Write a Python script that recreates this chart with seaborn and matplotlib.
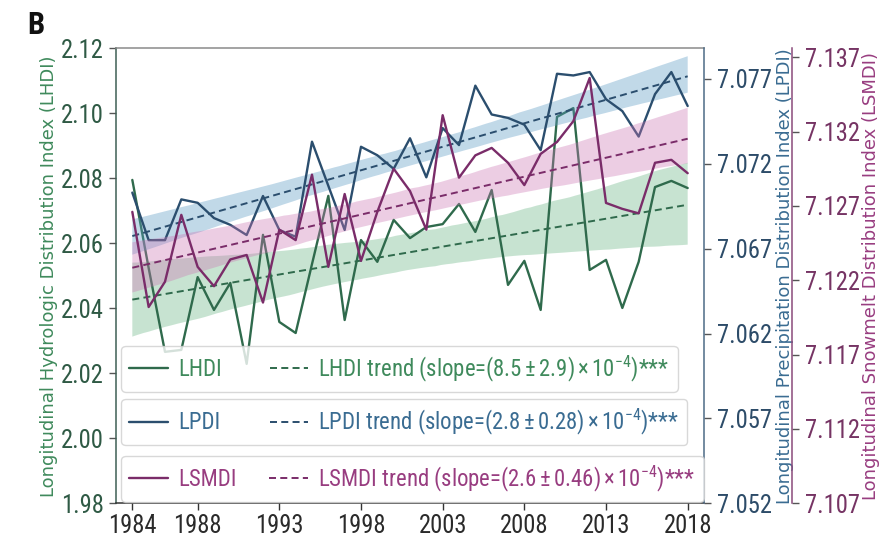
import matplotlib
matplotlib.use("Agg")
import matplotlib.pyplot as plt
import numpy as np
import pandas as pd
import seaborn as sns
from matplotlib import font_manager as fm
from matplotlib.font_manager import FontProperties
from matplotlib.textpath import TextPath

# ---- data ---------------------------------------------------------------
years = list(range(1984, 2019))

lhdi = [2.0795, 2.0524, 2.0266, 2.0272, 2.0496, 2.0395, 2.0478, 2.0229, 2.0626,
        2.0358, 2.0324, 2.0536, 2.0746, 2.0364, 2.0610, 2.0543, 2.0672, 2.0616,
        2.0650, 2.0659, 2.0721, 2.0635, 2.0764, 2.0472, 2.0546, 2.0395, 2.0989,
        2.1016, 2.0518, 2.0549, 2.0401, 2.0543, 2.0773, 2.0792, 2.0770]

lpdi = [7.0703, 7.0675, 7.0675, 7.0699, 7.0697, 7.0688, 7.0684, 7.0678, 7.0701,
        7.0681, 7.0677, 7.0733, 7.0707, 7.0681, 7.0730, 7.0725, 7.0717, 7.0735,
        7.0712, 7.0741, 7.0731, 7.0766, 7.0749, 7.0747, 7.0743, 7.0728, 7.0773,
        7.0772, 7.0774, 7.0758, 7.0751, 7.0736, 7.0761, 7.0774, 7.0754]

lsmdi = [7.1266, 7.1202, 7.1219, 7.1264, 7.1229, 7.1216, 7.1234, 7.1237, 7.1205,
         7.1254, 7.1247, 7.1291, 7.1229, 7.1278, 7.1233, 7.1266, 7.1295, 7.1280,
         7.1254, 7.1331, 7.1289, 7.1304, 7.1309, 7.1299, 7.1284, 7.1305, 7.1313,
         7.1327, 7.1356, 7.1272, 7.1268, 7.1265, 7.1299, 7.1301, 7.1292]

year_ticks = [1984, 1988, 1993, 1998, 2003, 2008, 2013, 2018]
lhdi_ticks = [1.98, 2.00, 2.02, 2.04, 2.06, 2.08, 2.10, 2.12]
lpdi_ticks = [7.052, 7.057, 7.062, 7.067, 7.072, 7.077]
lsmdi_ticks = [7.107, 7.112, 7.117, 7.122, 7.127, 7.132, 7.137]

series_names = ["LHDI", "LPDI", "LSMDI"]
trend_labels = [
    r"LHDI trend (slope=$(8.5 \pm 2.9)\times10^{-4}$)***",
    r"LPDI trend (slope=$(2.8 \pm 0.28)\times10^{-4}$)***",
    r"LSMDI trend (slope=$(2.6 \pm 0.46)\times10^{-4}$)***",
]
axis_labels = [
    "Longitudinal Hydrologic Distribution Index (LHDI)",
    "Longitudinal Precipitation Distribution Index (LPDI)",
    "Longitudinal Snowmelt Distribution Index (LSMDI)",
]

# ---- fonts --------------------------------------------------------------
sns.set_style("ticks")
installed = {f.name for f in fm.fontManager.ttflist}
preferred = ["Liberation Sans Narrow", "Roboto Condensed", "Open Sans Condensed",
             "PT Sans Narrow", "Archivo Narrow", "Fira Sans Condensed",
             "IBM Plex Sans Condensed", "Sofia Sans Semi Condensed",
             "Sofia Sans Condensed", "Liberation Sans"]
narrow = next((f for f in preferred if f in installed), "DejaVu Sans")
plt.rcParams["font.family"] = [narrow, "DejaVu Sans"]
plt.rcParams["mathtext.fontset"] = "custom"
plt.rcParams["mathtext.rm"] = narrow
plt.rcParams["mathtext.sf"] = narrow
plt.rcParams["mathtext.it"] = narrow + ":italic"
plt.rcParams["mathtext.bf"] = narrow + ":bold"

DPI = 100


def fit_size(text, target_px, lo=9, hi=22, **kw):
    """Font size (pt) giving `text` roughly `target_px` pixels of width."""
    path = TextPath((0, 0), text, size=10, prop=FontProperties(family=narrow, **kw))
    w_px = path.get_extents().width * DPI / 72
    return float(np.clip(10 * target_px / w_px, lo, hi))


tick_fs = fit_size("7.077", 53)
legend_fs = fit_size(trend_labels[0], 347)
panel_fs = fit_size("B", 16, weight="bold")

line_colors = ["#2f6a4c", "#2b4e6e", "#7a2c69"]
band_colors = ["#75bb8e", "#5c9bc5", "#cd76b4"]
band_alpha = [0.40, 0.38, 0.36]
label_colors = ["#3f8a5c", "#3a6c92", "#983d80"]
tick_colors = ["#2f5a45", "#2d4c69", "#763464"]

df = pd.DataFrame({"year": years, "LHDI": lhdi, "LPDI": lpdi, "LSMDI": lsmdi})

fig = plt.figure(figsize=(8.84, 5.42), dpi=DPI)
ax = fig.add_axes([0.1312, 0.0714, 0.6652, 0.8395])
ax2 = ax.twinx()
ax3 = ax.twinx()
ax3.spines["right"].set_position(("axes", 1.15))
axes = [ax, ax2, ax3]

handles = []
for a, name, lc, bc, ba in zip(axes, series_names, line_colors, band_colors, band_alpha):
    n_coll = len(a.collections)
    n_line = len(a.lines)
    sns.regplot(data=df, x="year", y=name, ax=a, scatter=False, ci=95, seed=7,
                truncate=True,
                line_kws=dict(color=lc, lw=1.4, linestyle=(0, (3.6, 2.2))))
    for coll in a.collections[n_coll:]:
        coll.set_facecolor(bc)
        coll.set_edgecolor("none")
        coll.set_alpha(ba)
    trend = a.lines[n_line]
    sns.lineplot(data=df, x="year", y=name, ax=a, color=lc, lw=1.7)
    series = a.lines[-1]
    handles.append((series, trend))
    a.set_xlabel("")

ax.set_xlim(1983, 2019)
ax.set_ylim(1.98, 2.12)
ax2.set_ylim(7.052, 7.0788)
ax3.set_ylim(7.107, 7.1376)

ax.set_xticks(year_ticks)
ax.set_xticklabels([str(y) for y in year_ticks])
ax.set_yticks(lhdi_ticks)
ax.set_yticklabels([f"{v:.2f}" for v in lhdi_ticks])
ax2.set_yticks(lpdi_ticks)
ax2.set_yticklabels([f"{v:.3f}" for v in lpdi_ticks])
ax3.set_yticks(lsmdi_ticks)
ax3.set_yticklabels([f"{v:.3f}" for v in lsmdi_ticks])

ax.tick_params(axis="x", labelsize=tick_fs, length=5, width=1, color="#333333",
               labelcolor="#2a2a2a", pad=3)
for a, tc in zip(axes, tick_colors):
    a.tick_params(axis="y", labelsize=tick_fs, length=5, width=1, color="#555555",
                  labelcolor=tc, pad=4)

for a, text, c in zip(axes, axis_labels, label_colors):
    a.set_ylabel(text, color=c, fontsize=13, family=["DejaVu Sans"])
ax.yaxis.set_label_coords(-0.098, 0.5)
ax2.yaxis.set_label_coords(1.122, 0.5)
ax3.yaxis.set_label_coords(1.268, 0.5)

# spines
ax.spines["left"].set_color("#3f5f55")
ax.spines["top"].set_color("#8a8a8a")
ax.spines["bottom"].set_color("#333333")
ax.spines["right"].set_visible(False)
for a in (ax2, ax3):
    for s in ("left", "top", "bottom"):
        a.spines[s].set_visible(False)
ax2.spines["right"].set_color("#4d6b86")
ax3.spines["right"].set_color("#8a4a7b")
for a in axes:
    for s in a.spines.values():
        s.set_linewidth(1.1)

# stacked legends, one per index, second column lined up across boxes
fs_px = legend_fs * DPI / 72
borderpad, handlelength, handletextpad = 0.35, 1.7, 0.45
box_left_px = 5.0          # gap from the left spine to the box edge
col2_px = 150.0            # second column start, measured from the left spine
axes_w_px = 0.6652 * 8.84 * DPI
leg_bottoms = [0.2446, 0.128, 0.003]
for i in range(3):
    name_w = TextPath((0, 0), series_names[i], size=legend_fs,
                      prop=FontProperties(family=narrow)).get_extents().width * DPI / 72
    used = box_left_px + (borderpad + handlelength + handletextpad) * fs_px + name_w
    colspace = max((col2_px - used) / fs_px, 0.5)
    series, trend = handles[i]
    leg = ax3.legend(handles=[series, trend], labels=[series_names[i], trend_labels[i]],
                     ncol=2, loc="lower left",
                     bbox_to_anchor=(box_left_px / axes_w_px, leg_bottoms[i]),
                     bbox_transform=ax.transAxes, borderaxespad=0, fontsize=legend_fs,
                     handlelength=handlelength, handletextpad=handletextpad,
                     columnspacing=colspace, borderpad=borderpad,
                     labelcolor=[label_colors[i], label_colors[i]],
                     frameon=True, framealpha=0.8, edgecolor="#cfcfcf", fancybox=True)
    if i < 2:
        ax3.add_artist(leg)

fig.text(0.040, 0.953, "B", fontsize=panel_fs, fontweight="bold", ha="center",
         va="center", color="#111111")

fig.savefig("out.png", dpi=DPI)
